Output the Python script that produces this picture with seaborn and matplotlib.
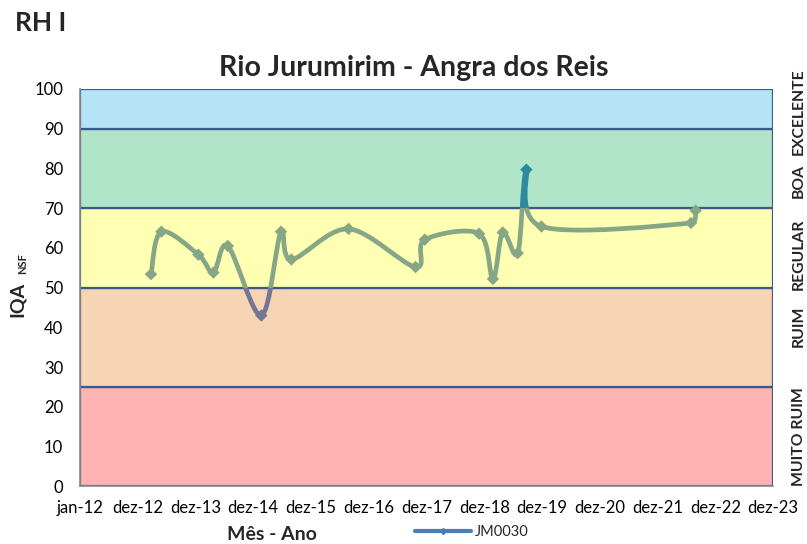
import numpy as np
import matplotlib
matplotlib.use("Agg")
import matplotlib.pyplot as plt
import seaborn as sns
from matplotlib.path import Path
from matplotlib.patches import PathPatch, Rectangle
from matplotlib.lines import Line2D

# data (x in decimal years, Excel 365-day axis)
ano = [2013.23, 2013.41, 2014.05, 2014.31, 2014.56, 2015.14, 2015.48, 2015.66,
       2016.65, 2017.81, 2017.97, 2018.91, 2019.15, 2019.32, 2019.58, 2019.73,
       2019.99, 2022.58, 2022.66]
iqa = [53.4, 64.1, 58.3, 53.8, 60.5, 43.0, 64.1, 57.1,
       64.8, 55.2, 62.1, 63.6, 52.2, 63.9, 58.7, 79.7,
       65.4, 66.3, 69.4]
serie = "JM0030"

tick_anos = list(range(2012, 2025))
tick_labels = ["jan-12", "dez-12", "dez-13", "dez-14", "dez-15", "dez-16", "dez-17",
               "dez-18", "dez-19", "dez-20", "dez-21", "dez-22", "dez-23"]

# quality classes
faixas_lim = [(0, 25), (25, 50), (50, 70), (70, 90), (90, 100)]
faixas_nome = ["MUITO RUIM", "RUIM", "REGULAR", "BOA", "EXCELENTE"]
faixas_cor = ["#FFB3B3", "#F6D4B4", "#FFFFB4", "#B1E5C9", "#B4E4F6"]

# pixel scale of the axes (for the smoothing, done in screen space like Excel)
PX_X = 57.75
PX_Y = 3.97


def smooth_path(x, y):
    """Excel-like smoothed line as cubic bezier path"""
    pts = np.column_stack([np.asarray(x) * PX_X, np.asarray(y) * PX_Y])
    n = len(pts)
    verts = [pts[0]]
    codes = [Path.MOVETO]
    for i in range(n - 1):
        p0 = pts[max(i - 1, 0)]
        p1 = pts[i]
        p2 = pts[i + 1]
        p3 = pts[min(i + 2, n - 1)]
        seg = np.linalg.norm(p2 - p1)
        d1 = (p2 - p0) / 6
        d2 = (p3 - p1) / 6
        # keep the handles shorter than half the segment (avoids loops)
        for d in (d1, d2):
            m = np.linalg.norm(d)
            if m > seg * 0.5:
                d *= seg * 0.5 / m
        verts += [p1 + d1, p2 - d2, p2]
        codes += [Path.CURVE4] * 3
    verts = np.array(verts) / np.array([PX_X, PX_Y])
    return Path(verts, codes)


sns.set_style("white")
plt.rcParams["font.family"] = ["Lato", "DejaVu Sans"]

fig = plt.figure(figsize=(8.07, 5.44), dpi=100)
ax = fig.add_axes([0.0991, 0.1059, 0.8588, 0.7305])

# background bands
for (lo, hi), cor in zip(faixas_lim, faixas_cor):
    ax.axhspan(lo, hi, facecolor=cor, edgecolor="#3B5A8C", linewidth=1.6, zorder=0)

ax.set_xlim(2012, 2024)
ax.set_ylim(0, 100)

# smoothed line, coloured by value zone
path = smooth_path(ano, iqa)
zonas = [(-50, 50, "#737794"), (50, 70, "#86A785"), (70, 200, "#2F8A9C")]
for lo, hi, cor in zonas:
    patch = PathPatch(path, facecolor="none", edgecolor=cor, linewidth=3.4,
                      capstyle="round", joinstyle="round", zorder=3)
    ax.add_patch(patch)
    clip = Rectangle((2000, lo), 40, hi - lo, transform=ax.transData)
    patch.set_clip_path(clip)

cores_pt = ["#737794" if v < 50 else ("#2F8A9C" if v >= 70 else "#86A785") for v in iqa]
sns.scatterplot(x=ano, y=iqa, ax=ax, marker="D", s=40, c=cores_pt,
                edgecolor="none", zorder=4, legend=False)

ax.set_xticks(tick_anos)
ax.set_xticklabels(tick_labels)
ax.set_yticks(range(0, 101, 10))
ax.tick_params(axis="both", labelsize=12, colors="#000000", length=5.5,
               width=1, direction="out")
ax.tick_params(axis="y", pad=6.5)
ax.tick_params(axis="x", pad=4)
ax.tick_params(axis="both", color="#888888")
for s in ["top", "right"]:
    ax.spines[s].set_visible(False)
for s in ["left", "bottom"]:
    ax.spines[s].set_color("#888888")
    ax.spines[s].set_linewidth(1.2)

# right-hand class labels
pos_y = [12.5, 40.4, 58.3, 76.9, 94.3]
for nome, yy in zip(faixas_nome, pos_y):
    ax.text(2024.45, yy, nome, rotation=90, ha="center", va="center",
            fontsize=11.3, fontweight="bold", clip_on=False)

fig.text(0.513, 0.875, "Rio Jurumirim - Angra dos Reis", ha="center", va="center",
         fontsize=20.5, fontweight="bold")
fig.text(0.018, 0.957, "RH I", ha="left", va="center", fontsize=19, fontweight="bold")

# y label with subscript
fig.text(0.0217, 0.45, "IQA", rotation=90, ha="center", va="center",
         fontsize=14, fontweight="bold")
fig.text(0.0285, 0.515, "NSF", rotation=90, ha="center", va="center",
         fontsize=8, fontweight="bold")

fig.text(0.337, 0.017, "Mês - Ano", ha="center", va="center",
         fontsize=14, fontweight="bold")

handle = Line2D([], [], color="#4A7EBB", lw=3, marker="D", markersize=3)
fig.legend([handle], [serie], loc="center", bbox_to_anchor=(0.585, 0.022),
           frameon=False, fontsize=10.5, handlelength=3.8, handletextpad=0.3)

fig.savefig("out.png", dpi=100)
